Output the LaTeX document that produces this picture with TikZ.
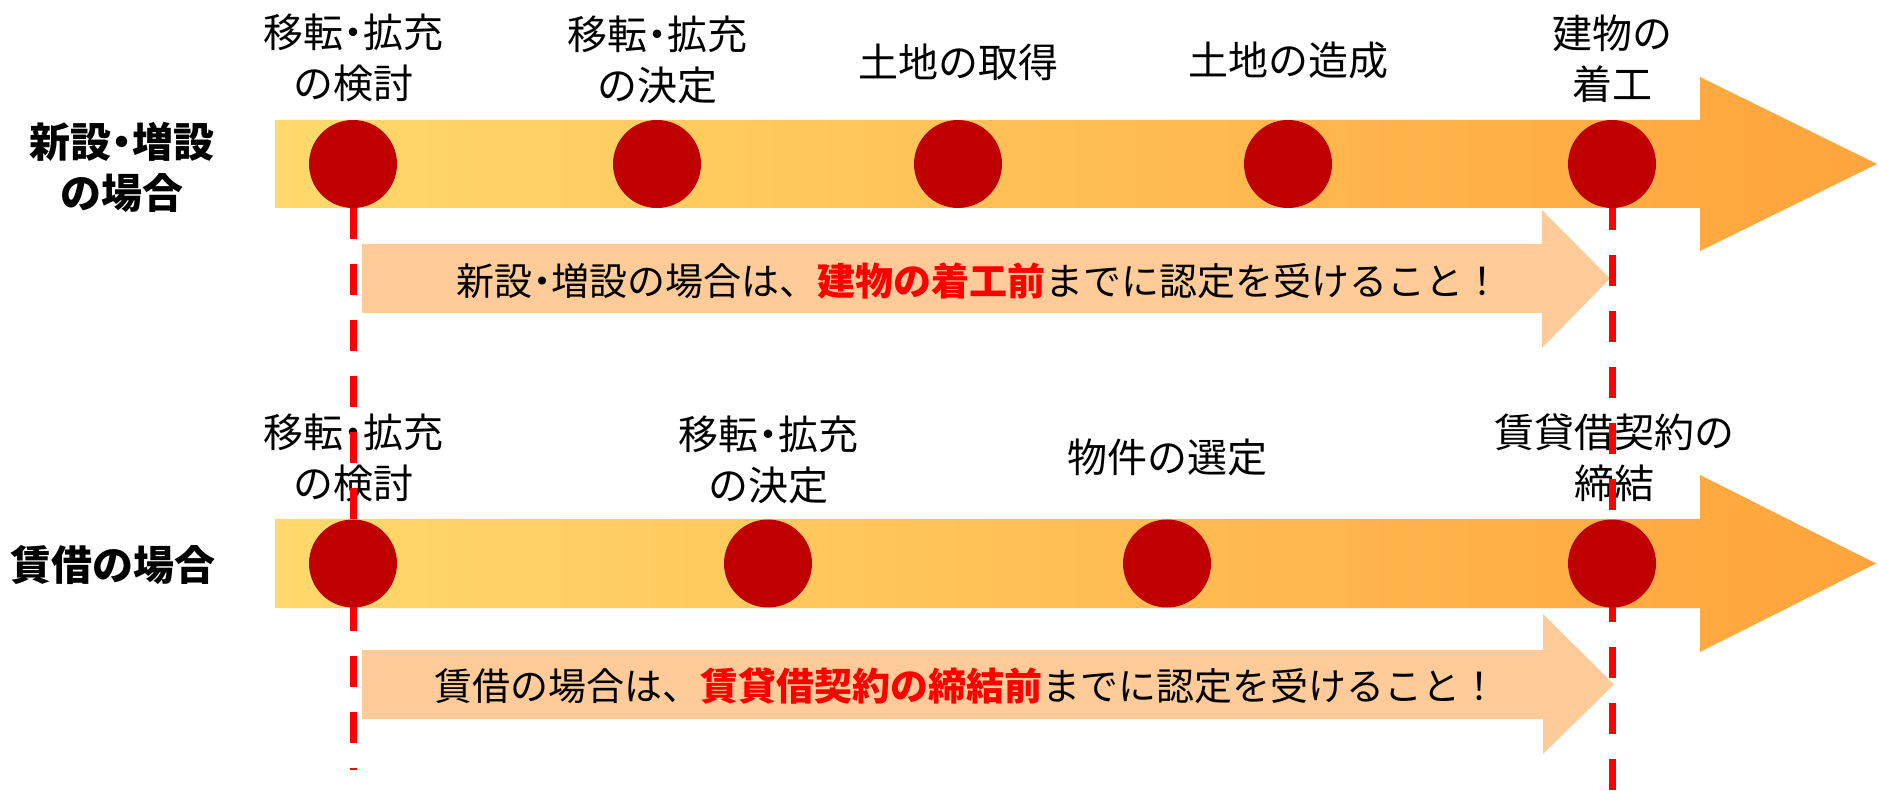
\documentclass[tikz,border=0pt]{standalone}
\usepackage{fontspec}
\setmainfont{Noto Sans CJK JP}
\usepackage{xcolor}

\definecolor{dotred}{HTML}{C00000}
\definecolor{barlight}{HTML}{FFD96C}
\definecolor{barmid}{HTML}{FFD266}
\definecolor{bardark}{HTML}{FFA43C}
\definecolor{notefill}{HTML}{FFCC99}
\definecolor{markred}{HTML}{FF0000}

\pgfdeclarelayer{front}
\pgfsetlayers{main,front}

\tikzset{
  milestone/.style={circle, fill=dotred, minimum size=88pt, inner sep=0pt},
  stagelabel/.style={align=center, inner sep=0pt, font=\fontsize{40}{51}\selectfont},
  rowlabel/.style={align=center, inner sep=0pt, font=\fontsize{41}{51}\selectfont\bfseries},
  note/.style={inner sep=0pt, font=\fontsize{38}{44}\selectfont},
  bigarrow/.style={left color=barlight, middle color=barmid, right color=bardark},
  deadline/.style={draw=markred, line width=7pt, dash pattern=on 31pt off 25pt},
}
\newcommand{\due}[1]{\textcolor{markred}{\bfseries #1}}
\newcommand{\nkg}{\makebox[0.5em][c]{・}}

\begin{document}
\begin{tikzpicture}[x=1pt, y=1pt]
  \useasboundingbox (0,0) rectangle (1878,790);

  % new building row
  \shade[bigarrow] (275,670) -- (1700,670) -- (1700,713) -- (1877,626)
        -- (1700,539) -- (1700,582) -- (275,582) -- cycle;
  \fill[notefill] (362,546) -- (1542,546) -- (1542,580) -- (1610,511.5)
        -- (1542,442) -- (1542,477) -- (362,477) -- cycle;
  \node[rowlabel] (rownew) at (122,622.5) {新設\nkg 増設\\の場合};
  \node[note] (notenew) at (979,509) {新設\nkg 増設の場合は、\due{建物の着工前}までに認定を受けること！};

  \begin{pgfonlayer}{front}
    \node[milestone] (new1) at (353,626) {};
    \node[milestone] (new2) at (657,626) {};
    \node[milestone] (new3) at (958,626) {};
    \node[milestone] (new4) at (1288,626) {};
    \node[milestone] (new5) at (1612,626) {};
  \end{pgfonlayer}
  \node[stagelabel] (lnew1) at (353,732.5) {移転\nkg 拡充\\の検討};
  \node[stagelabel] (lnew2) at (657,730) {移転\nkg 拡充\\の決定};
  \node[stagelabel] (lnew3) at (958,728) {土地の取得};
  \node[stagelabel] (lnew4) at (1288,730) {土地の造成};
  \node[stagelabel] (lnew5) at (1612,731) {建物の\\着工};

  % rental row
  \shade[bigarrow] (275,271) -- (1700,271) -- (1700,315) -- (1876,226.5)
        -- (1700,138) -- (1700,182) -- (275,182) -- cycle;
  \fill[notefill] (362,140) -- (1543,140) -- (1543,176) -- (1614,105.5)
        -- (1543,36) -- (1543,71) -- (362,71) -- cycle;
  \node[rowlabel] (rowrent) at (113,225) {賃借の場合};
  \node[note] (noterent) at (966,104) {賃借の場合は、\due{賃貸借契約の締結前}までに認定を受けること！};

  \begin{pgfonlayer}{front}
    \node[milestone] (rent1) at (353,226.5) {};
    \node[milestone] (rent2) at (768,226.5) {};
    \node[milestone] (rent3) at (1167,226.5) {};
    \node[milestone] (rent4) at (1612,226.5) {};
  \end{pgfonlayer}
  \node[stagelabel] (lrent1) at (353,332.5) {移転\nkg 拡充\\の検討};
  \node[stagelabel] (lrent2) at (768,330) {移転\nkg 拡充\\の決定};
  \node[stagelabel] (lrent3) at (1167,333) {物件の選定};
  \node[stagelabel] (lrent4) at (1614,332) {賃貸借契約の\\締結};

  % deadlines
  \coordinate (end1) at (353,20);
  \coordinate (end5) at (1612,0);
  \draw[deadline] (new1.south) -- (end1);
  \draw[deadline, dash phase=9pt] (new5.south) -- (end5);
\end{tikzpicture}
\end{document}
